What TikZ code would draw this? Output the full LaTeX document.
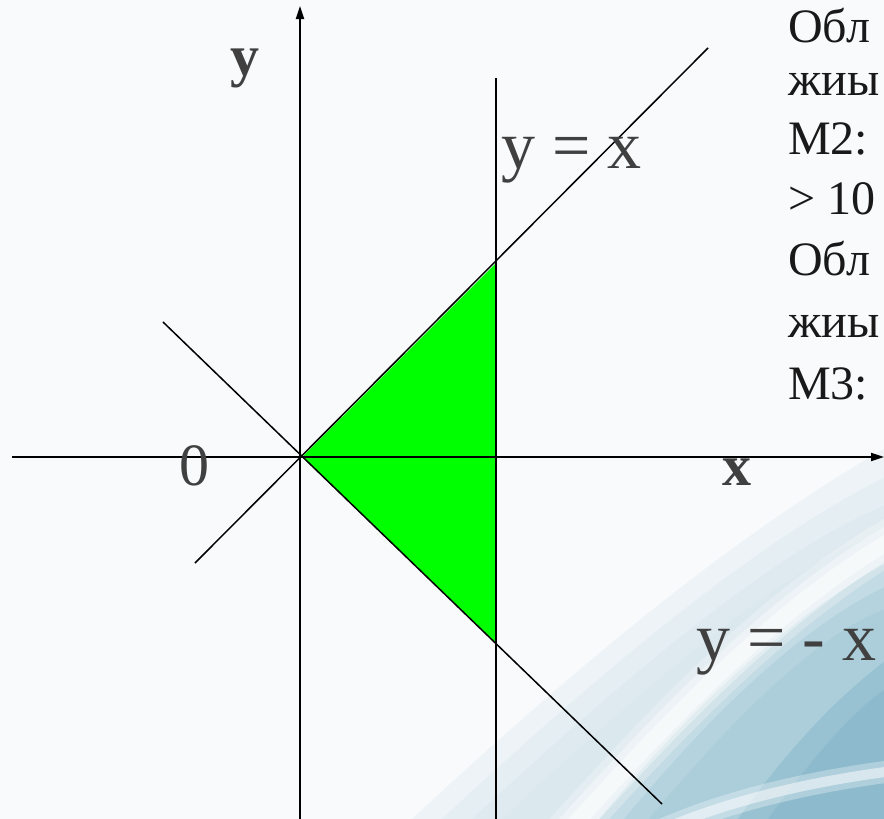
\documentclass[tikz,border=0pt]{standalone}
\usepackage{fontspec}
\setmainfont{Liberation Serif}
\usetikzlibrary{arrows.meta}
\definecolor{txtgray}{HTML}{404040}
\definecolor{bgwhite}{HTML}{F9FAFC}
\definecolor{haze}{HTML}{D4E4EC}
\definecolor{bluemid}{HTML}{9FC8D6}
\definecolor{bluedeep}{HTML}{7DB2C6}
\definecolor{regiongreen}{HTML}{00FF00}
\begin{document}
\begin{tikzpicture}[x=1pt,y=-1pt,
  thinline/.style={black, line width=1.5pt},
  axisline/.style={black, line width=1.8pt, -{Triangle[length=13pt,width=8pt]}},
  bigtxt/.style={text=txtgray, inner sep=0pt, anchor=base west, font=\fontsize{68}{68}\selectfont},
  boldtxt/.style={text=txtgray, inner sep=0pt, anchor=base west, font=\fontsize{58}{58}\selectfont\bfseries},
  zerotxt/.style={text=txtgray, inner sep=0pt, anchor=base west, font=\fontsize{60}{60}\selectfont},
  sidetxt/.style={text=black!90, inner sep=0pt, anchor=base west, font=\fontsize{48}{48}\selectfont}
]
\useasboundingbox (0,0) rectangle (884,819);
% background
\fill[bgwhite] (0,0) rectangle (884,819);
\begin{scope}
\clip (0,0) rectangle (884,819);
\foreach \d/\o in {0/0.3,30/0.3,60/0.3,90/0.3}{
  \fill[haze, opacity=\o] (400+\d,830) .. controls (540+\d,700) and (720+\d,540) .. (900,440+\d) -- (900,830) -- cycle;
}
\foreach \d/\o in {0/0.4,25/0.4,50/0.4}{
  \fill[bluemid, opacity=\o] (590+\d,830) .. controls (680+\d,720) and (780+\d,620) .. (900,555+\d) -- (900,830) -- cycle;
}
\foreach \d/\o in {0/0.4,30/0.4}{
  \fill[bluedeep, opacity=\o] (730+\d,830) .. controls (780+\d,760) and (830+\d,700) .. (900,650+\d) -- (900,830) -- cycle;
}
\foreach \w/\o in {44/0.25,30/0.35,16/0.55}{
  \draw[white, line width=\w pt, opacity=\o] (560,840) .. controls (660,730) and (770,610) .. (900,535);
}
\foreach \w/\o in {22/0.3,10/0.5}{
  \draw[white, line width=\w pt, opacity=\o] (640,840) .. controls (720,800) and (820,780) .. (900,770);
}
\end{scope}

% coordinates
\coordinate (O) at (300,457);
\coordinate (ybot) at (300,819);
\coordinate (ytop) at (300,6);
\coordinate (xleft) at (12,457);
\coordinate (xright) at (884,457);
\coordinate (vtop) at (496,78);
\coordinate (vbot) at (496,819);
\coordinate (dA) at (195,563);
\coordinate (dB) at (708,48);
\coordinate (eA) at (163,322);
\coordinate (eB) at (662,804);
\coordinate (T1) at (302,457);
\coordinate (T2) at (495,264);
\coordinate (T3) at (496,643);

% region
\fill[regiongreen] (T1) -- (T2) -- (T3) -- cycle;

% lines
\draw[thinline] (dA) -- (dB);
\draw[thinline] (eA) -- (eB);
\draw[thinline] (vtop) -- (vbot);
\draw[axisline] (xleft) -- (xright);
\draw[axisline] (ybot) -- (ytop);

% labels
\node[boldtxt] (ylab) at (230,75) {y};
\node[boldtxt] (xlab) at (722,485) {x};
\node[zerotxt] (zero) at (179,485) {0};
\node[bigtxt] (eq1) at (501,168) {y = x};
\node[bigtxt] (eq2) at (696,660) {y = - x};

% side text (visible part)
\node[sidetxt] (s1) at (788,42) {Обл};
\node[sidetxt] (s2) at (788,95) {жиы};
\node[sidetxt] (s3) at (788,154) {M2:};
\node[sidetxt] (s4) at (788,214) {> 10};
\node[sidetxt] (s5) at (788,275) {Обл};
\node[sidetxt] (s6) at (788,337) {жиы};
\node[sidetxt] (s7) at (788,399) {M3:};
\end{tikzpicture}
\end{document}
